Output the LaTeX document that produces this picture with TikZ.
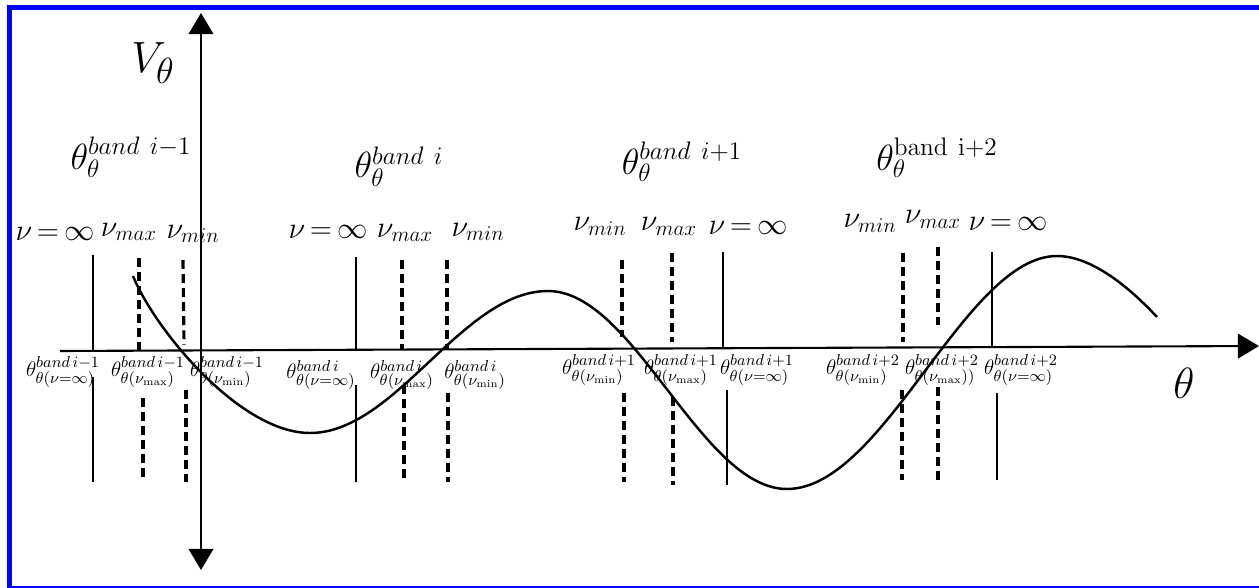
\documentclass[tikz,border=0pt]{standalone}
\usetikzlibrary{arrows.meta}
\begin{document}
\begin{tikzpicture}[x=0.02cm, y=-0.02cm, >={Triangle[width=14pt,length=12pt]},
        every node/.style={inner sep=0pt},
        bigfont/.style={font=\fontsize{29}{31}\selectfont},
        bandfont/.style={font=\fontsize{20}{22}\selectfont},
        nufont/.style={font=\fontsize{17}{19}\selectfont, anchor=base},
        axfont/.style={font=\fontsize{13}{15}\selectfont},
        axis/.style={line width=1.2pt},
        vinf/.style={line width=1pt},
        vdash/.style={line width=1.8pt, dash pattern=on 5pt off 3pt}]
        \useasboundingbox (0,0) rectangle (1259,588);
        % frame
        \draw[blue, line width=2.8pt] (1259,7.5) -- (9.5,7.5) -- (9.5,588) -- (1259,588);

        % axes
        \coordinate (ytop) at (201,13);
        \coordinate (ybot) at (201,570);
        \coordinate (xl) at (60,351);
        \coordinate (xr) at (1259,346);
        \draw[axis, <->] (ybot) -- (ytop);
        \draw[axis, ->] (xl) -- (xr);
        \node[bigfont] (vth) at (153,63) {$V_\theta$};
        \node[font=\fontsize{24}{26}\selectfont] (th) at (1184,383) {$\theta$};

        % band labels
        \node[bandfont] (b1) at (131,157) {$\theta^{band\ i{-}1}_{\theta}$};
        \node[bandfont] (b2) at (399,167) {$\theta^{band\ i}_{\theta}$};
        \node[bandfont] (b3) at (682,162) {$\theta^{band\ i{+}1}_{\theta}$};
        \node[bandfont] (b4) at (937,158) {$\theta^{\mathrm{band\ i{+}2}}_{\theta}$};

        % nu labels
        \node[nufont] (inf1) at (55,240) {$\nu\,{=}\,\infty$};
        \node[nufont] (max1) at (129,236) {$\nu_{max}$};
        \node[nufont] (min1) at (193,238) {$\nu_{min}$};
        \node[nufont] (inf2) at (328,238) {$\nu\,{=}\,\infty$};
        \node[nufont] (max2) at (405,237) {$\nu_{max}$};
        \node[nufont] (min2) at (478,236) {$\nu_{min}$};
        \node[nufont] (min3) at (600,231) {$\nu_{min}$};
        \node[nufont] (max3) at (669,231) {$\nu_{max}$};
        \node[nufont] (inf3) at (748,235) {$\nu\,{=}\,\infty$};
        \node[nufont] (min4) at (870,228) {$\nu_{min}$};
        \node[nufont] (max4) at (933,224) {$\nu_{max}$};
        \node[nufont] (inf4) at (1008,231) {$\nu\,{=}\,\infty$};

        % vertical marks
        \draw[vinf] (93,255) -- (93,351);
        \draw[vinf] (93,377) -- (93,482);
        \draw[vdash] (139,258) -- (139,350);
        \draw[vdash] (143,398) -- (143,478);
        \draw[vdash] (183,260) -- (184,345);
        \draw[vdash] (186,390) -- (186,482);
        \draw[vinf] (356,257) -- (356,350);
        \draw[vinf] (356,385) -- (356,482);
        \draw[vdash] (402,260) -- (402,350);
        \draw[vdash] (404,385) -- (404,482);
        \draw[vdash] (447,260) -- (447,350);
        \draw[vdash] (448,393) -- (448,482);
        \draw[vdash] (622,260) -- (622,337);
        \draw[vdash] (624,393) -- (624,482);
        \draw[vdash] (672,253) -- (672,342);
        \draw[vdash] (673,397) -- (673,485);
        \draw[vinf] (723,252) -- (723,348);
        \draw[vinf] (727,390) -- (727,485);
        \draw[vdash] (903,253) -- (903,342);
        \draw[vdash] (902,390) -- (902,480);
        \draw[vdash] (938,247) -- (938,325);
        \draw[vdash] (938,387) -- (938,480);
        \draw[vinf] (992,252) -- (992,347);
        \draw[vinf] (997,393) -- (997,480);

        % potential curve
        \draw[line width=1.4pt] (133,276) .. controls (155,330) and (240,433) .. (310,433)
            .. controls (396,433) and (462,291) .. (548,291)
            .. controls (634,291) and (701,489) .. (787,489)
            .. controls (884,489) and (965,256) .. (1057,256)
            .. controls (1092,256) and (1130,288) .. (1157,317);

        % axis labels
        \node[axfont] (l1) at (63,372) {$\theta^{band\,i{-}1}_{\theta(\nu{=}\infty)}$};
        \node[axfont] (l2) at (148,372) {$\theta^{band\,i{-}1}_{\theta(\nu_{\max})}$};
        \node[axfont] (l3) at (227,372) {$\theta^{band\,i{-}1}_{\theta(\nu_{\min})}$};
        \node[axfont] (l4) at (321,375) {$\theta^{band\,i}_{\theta(\nu{=}\infty)}$};
        \node[axfont] (l5) at (402,375) {$\theta^{band\,i}_{\theta(\nu_{\max})}$};
        \node[axfont] (l6) at (475,375) {$\theta^{band\,i}_{\theta(\nu_{\min})}$};
        \node[axfont] (l7) at (599,370) {$\theta^{band\,i{+}1}_{\theta(\nu_{\min})}$};
        \node[axfont] (l8) at (681,370) {$\theta^{band\,i{+}1}_{\theta(\nu_{\max})}$};
        \node[axfont] (l9) at (757,370) {$\theta^{band\,i{+}1}_{\theta(\nu{=}\infty)}$};
        \node[axfont] (l10) at (863,370) {$\theta^{band\,i{+}2}_{\theta(\nu_{\min})}$};
        \node[axfont] (l11) at (942,370) {$\theta^{band\,i{+}2}_{\theta(\nu_{\max}))}$};
        \node[axfont] (l12) at (1021,370) {$\theta^{band\,i{+}2}_{\theta(\nu{=}\infty)}$};
\end{tikzpicture}
\end{document}
